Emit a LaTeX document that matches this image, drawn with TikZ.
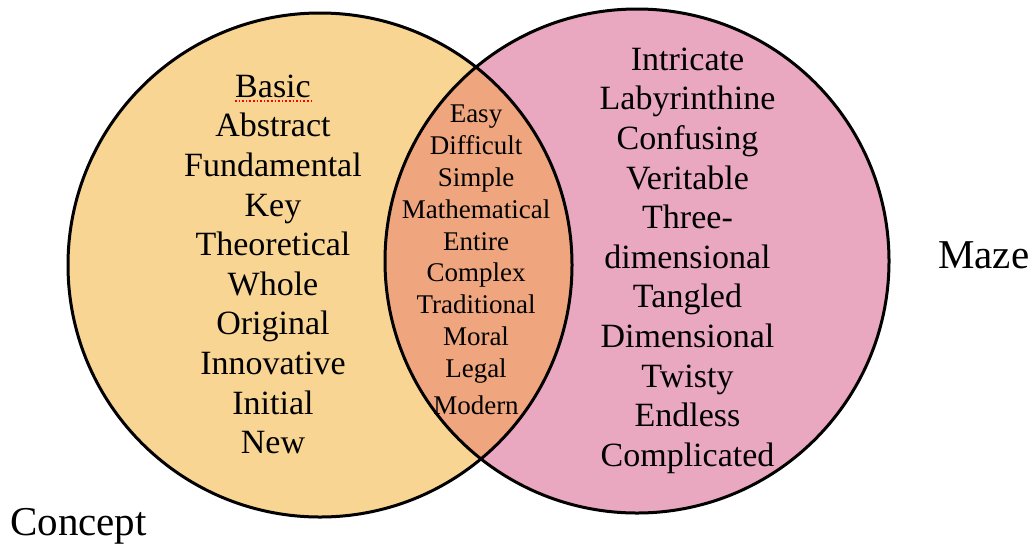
\documentclass[tikz,border=0pt]{standalone}
\usepackage{fontspec}
\setmainfont{Liberation Serif}
\definecolor{conceptfill}{RGB}{249,213,148}
\definecolor{mazefill}{RGB}{233,167,192}
\definecolor{bothfill}{RGB}{239,166,126}
\begin{document}
\begin{tikzpicture}[x=1pt,y=-1pt,
    setline/.style={line width=3pt},
    wordlist/.style={align=center,inner sep=0pt,anchor=north},
    bigwords/.style={wordlist,font=\fontsize{34}{39.6}\selectfont},
    smallwords/.style={wordlist,font=\fontsize{27}{31.8}\selectfont},
    setname/.style={inner sep=0pt,font=\fontsize{41}{48}\selectfont}]
    \useasboundingbox (0,0) rectangle (1035,547);
    \coordinate (conceptc) at (320,265);
    \coordinate (mazec) at (637,261);

    % Circles
    \fill[conceptfill] (conceptc) circle[radius=252pt];
    \fill[mazefill] (mazec) circle[radius=252pt];
    \begin{scope}
        \clip (conceptc) circle[radius=252pt];
        \fill[bothfill] (mazec) circle[radius=252pt];
    \end{scope}
    \draw[setline] (conceptc) circle[radius=252pt];
    \draw[setline] (mazec) circle[radius=252pt];

    % Concept only
    \node[bigwords] (conceptwords) at (273,74.5) {Basic\\Abstract\\Fundamental\\Key\\Theoretical\\Whole\\Original\\Innovative\\Initial\\New};
    \draw[red,dotted,line width=1.6pt] (235,101) -- (312,101);

    % Both
    \node[smallwords] (bothwords) at (476,105) {Easy\\Difficult\\Simple\\Mathematical\\Entire\\Complex\\Traditional\\Moral\\Legal\\[5pt]Modern};

    % Maze only
    \node[bigwords] (mazewords) at (687.5,47.5) {Intricate\\Labyrinthine\\Confusing\\Veritable\\Three-\\dimensional\\Tangled\\Dimensional\\Twisty\\Endless\\Complicated};

    % Set names
    \node[setname,anchor=base west] (concept) at (10,535) {Concept};
    \node[setname,anchor=base west] (maze) at (938,268) {Maze};
\end{tikzpicture}
\end{document}
